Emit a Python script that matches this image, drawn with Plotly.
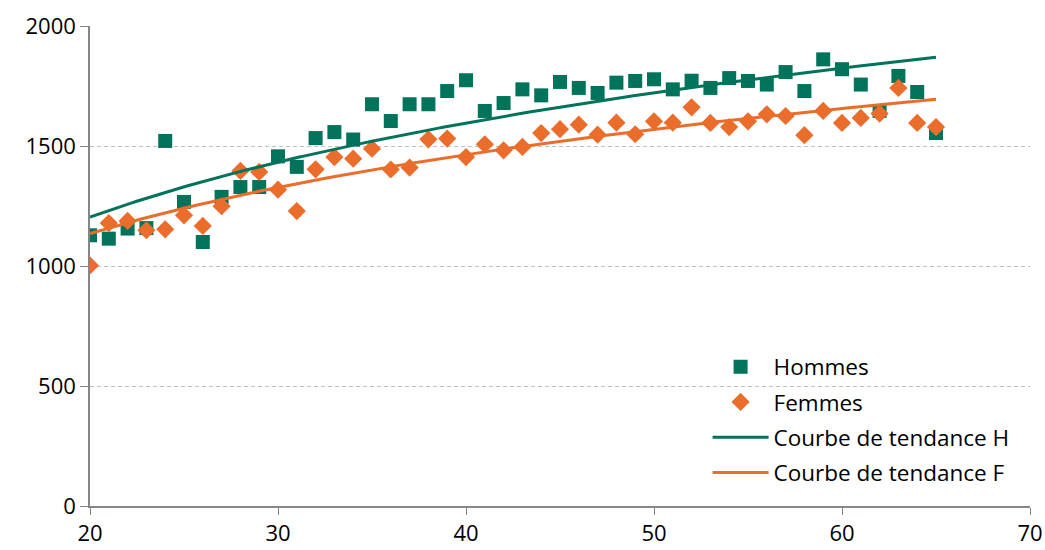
import numpy as np
import plotly.graph_objects as go

ages = list(range(20, 66))
hommes = [1128, 1114, 1156, 1158, 1521, 1267, 1100, 1288, 1329, 1329,
          1457, 1413, 1533, 1558, 1527, 1674, 1604, 1674, 1674, 1729,
          1774, 1646, 1679, 1736, 1711, 1767, 1742, 1721, 1764, 1771,
          1778, 1736, 1772, 1742, 1783, 1771, 1756, 1808, 1729, 1861,
          1820, 1756, 1646, 1792, 1725, 1554]
femmes = [1002, 1179, 1188, 1149, 1153, 1211, 1167, 1249, 1396, 1392,
          1318, 1229, 1403, 1454, 1447, 1489, 1402, 1410, 1528, 1531,
          1454, 1507, 1482, 1496, 1554, 1570, 1589, 1547, 1597, 1549,
          1603, 1597, 1661, 1596, 1579, 1603, 1632, 1625, 1545, 1646,
          1596, 1617, 1635, 1742, 1596, 1579]
x_ticks = [20, 30, 40, 50, 60, 70]
y_ticks = [0, 500, 1000, 1500, 2000]

GREEN = "#00735B"
ORANGE = "#EB6D2B"
FONT = "Open Sans"

x = np.array(ages, dtype=float)
xl = np.log(x)
bh, ah = np.polyfit(xl, np.array(hommes, float), 1)
bf, af = np.polyfit(xl, np.array(femmes, float), 1)
xs = np.linspace(20, 65, 200)
trend_h = ah + bh * np.log(xs)
trend_f = af + bf * np.log(xs)

fig = go.Figure()
fig.add_trace(go.Scatter(x=ages, y=hommes, mode="markers", name="Hommes",
                         legendgroup="a",
                         marker=dict(symbol="square", size=14, color=GREEN)))
fig.add_trace(go.Scatter(x=ages, y=femmes, mode="markers", name="Femmes",
                         legendgroup="b",
                         marker=dict(symbol="diamond", size=14, color=ORANGE)))
fig.add_trace(go.Scatter(x=xs, y=trend_h, mode="lines", name="Courbe de tendance H",
                         legendgroup="c",
                         line=dict(color=GREEN, width=3)))
fig.add_trace(go.Scatter(x=xs, y=trend_f, mode="lines", name="Courbe de tendance F",
                         legendgroup="d",
                         line=dict(color=ORANGE, width=3)))

fig.update_layout(
    width=1045, height=550,
    margin=dict(l=90, r=15, t=26, b=44),
    paper_bgcolor="white", plot_bgcolor="white",
    font=dict(family=FONT, size=22, color="#000000"),
    legend=dict(x=0.657, y=0.026, xanchor="left", yanchor="bottom",
                bgcolor="rgba(0,0,0,0)", traceorder="grouped",
                tracegroupgap=3, itemwidth=56,
                font=dict(family=FONT, size=22.5, color="#000000")),
    xaxis=dict(range=[20, 70], tickvals=x_ticks, showgrid=False,
               showline=True, linecolor="#868686", linewidth=1.5,
               ticks="outside", ticklen=7, tickcolor="#868686",
               zeroline=False, automargin=False, tickfont=dict(size=22)),
    yaxis=dict(range=[0, 2000], tickvals=y_ticks, showgrid=True,
               gridcolor="#BFBFBF", griddash="4px,3px", gridwidth=1,
               showline=True, linecolor="#868686", linewidth=1.5,
               ticks="outside", ticklen=8, tickcolor="#868686",
               zeroline=False, automargin=False, tickfont=dict(size=22)),
)

fig.write_html("out.html",
               config={"displayModeBar": False},
               post_script="document.body.style.margin='0';document.body.style.overflow='hidden';")
